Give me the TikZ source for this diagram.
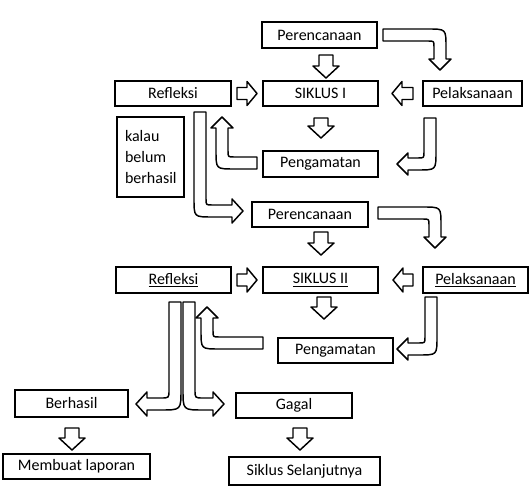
\documentclass[tikz,border=0pt]{standalone}
\usepackage{fontspec}
\setmainfont{Carlito}
\newcommand\BDown[3]{\draw[barrow] ({#1-7},{#2}) -- ({#1+7},{#2}) -- ({#1+7},{#3-12}) -- ({#1+13},{#3-12}) -- ({#1},{#3}) -- ({#1-13},{#3-12}) -- ({#1-7},{#3-12}) -- cycle;}
\newcommand\BRight[3]{\draw[barrow] ({#1},{#3-6}) -- ({#2-10},{#3-6}) -- ({#2-10},{#3-12}) -- ({#2},{#3}) -- ({#2-10},{#3+12}) -- ({#2-10},{#3+6}) -- ({#1},{#3+6}) -- cycle;}
\newcommand\BLeft[3]{\draw[barrow] ({#1},{#3-6}) -- ({#2+10},{#3-6}) -- ({#2+10},{#3-12}) -- ({#2},{#3}) -- ({#2+10},{#3+12}) -- ({#2+10},{#3+6}) -- ({#1},{#3+6}) -- cycle;}
\begin{document}
\begin{tikzpicture}[x=0.75pt,y=-0.75pt,
  box/.style={draw=black, line width=1.5pt, fill=white, inner sep=0pt, font=\fontsize{12}{14}\selectfont},
  sz/.style 2 args={minimum width=#1*0.75pt, minimum height=#2*0.75pt},
  barrow/.style={draw=black, line width=1.1pt, fill=white, line join=round}]
\useasboundingbox (0,0) rectangle (531,491);
\fill[white] (0,0) rectangle (531,491);

% boxes
\node[box, sz={115}{26}] (per1) at (319.5,35) {Perencanaan};
\node[box, sz={116}{25}] (ref1) at (173,93.5) {Refleksi};
\node[box, sz={115}{25}] (sik1) at (320.5,93.5) {SIKLUS I};
\node[box, sz={99}{25}] (pel1) at (472.5,93.5) {Pelaksanaan};
\node[box, line width=0.9pt, sz={67}{80}, text width=51*0.75pt, inner xsep=8*0.75pt, align=left, font=\fontsize{12}{15.7}\selectfont] (kal) at (150.5,157) {kalau\\belum\\berhasil};
\node[box, sz={115}{26}] (pen1) at (320.5,164) {Pengamatan};
\node[box, sz={116}{25}] (per2) at (310,214.5) {Perencanaan};
\node[box, sz={115}{26}] (ref2) at (173.5,280) {\underline{Refleksi}};
\node[box, sz={115}{26}] (sik2) at (320.5,280) {\underline{SIKLUS II}};
\node[box, sz={105}{26}] (pel2) at (475.5,280) {\underline{Pelaksanaan}};
\node[box, sz={115}{25}] (pen2) at (335.5,350.5) {Pengamatan};
\node[box, sz={113}{27}] (ber) at (71.5,403.5) {Berhasil};
\node[box, sz={116}{25}] (gag) at (294,405.5) {Gagal};
\node[box, sz={147}{25}] (mem) at (76.5,466.5) {Membuat laporan};
\node[box, sz={151}{28}] (sel) at (304.5,471) {Siklus Selanjutnya};

% straight block arrows
\BDown{326}{55}{78}
\BDown{321}{118}{138}
\BDown{321}{232}{255}
\BDown{324}{297}{319}
\BDown{72}{428}{450}
\BDown{300}{428}{450}
\BRight{237}{257}{93.5}
\BLeft{413}{392}{93.5}
\BRight{237}{257}{280}
\BLeft{413}{393}{280}

% bent block arrows
% Perencanaan 1 -> Pelaksanaan 1
\draw[barrow] (383,29) -- (428,29) .. controls (446,29) .. (446,47) -- (446,59) -- (451,59) -- (440,70) -- (429,59) -- (434,59) -- (434,47) .. controls (434,41) .. (428,41) -- (383,41) -- cycle;
% Pelaksanaan 1 -> Pengamatan 1
\draw[barrow] (424,118) -- (436,118) -- (436,152) .. controls (436,170) .. (418,170) -- (408,170) -- (408,175) -- (397,164) -- (408,153) -- (408,158) -- (418,158) .. controls (424,158) .. (424,152) -- cycle;
% Pengamatan 1 -> Refleksi 1
\draw[barrow] (257,157) -- (257,169) -- (234,169) .. controls (216,169) .. (216,151) -- (216,128) -- (211,128) -- (222,117) -- (233,128) -- (228,128) -- (228,151) .. controls (228,157) .. (234,157) -- cycle;
% Refleksi 1 -> Perencanaan 2
\draw[barrow] (194,112) -- (206,112) -- (206,199) .. controls (206,205) .. (212,205) -- (232,205) -- (232,199) -- (243,211) -- (232,223) -- (232,217) -- (212,217) .. controls (194,217) .. (194,199) -- cycle;
% Perencanaan 2 -> Pelaksanaan 2
\draw[barrow] (378,207) -- (423,207) .. controls (441,207) .. (441,225) -- (441,237) -- (446,237) -- (435,248) -- (424,237) -- (429,237) -- (429,225) .. controls (429,219) .. (423,219) -- (378,219) -- cycle;
% Pelaksanaan 2 -> Pengamatan 2
\draw[barrow] (425,297) -- (437,297) -- (437,337) .. controls (437,355) .. (419,355) -- (408,355) -- (408,360) -- (397,349) -- (408,338) -- (408,343) -- (419,343) .. controls (425,343) .. (425,337) -- cycle;
% Pengamatan 2 -> Refleksi 2
\draw[barrow] (263,337) -- (263,349) -- (219,349) .. controls (201,349) .. (201,331) -- (201,318) -- (196,318) -- (207,307) -- (218,318) -- (213,318) -- (213,331) .. controls (213,337) .. (219,337) -- cycle;
% Refleksi 2 -> Berhasil
\draw[barrow] (169,302) -- (181,302) -- (181,390) .. controls (181,410) .. (161,410) -- (147,410) -- (147,416) -- (136,404) -- (147,392) -- (147,398) -- (161,398) .. controls (169,398) .. (169,390) -- cycle;
% Refleksi 2 -> Gagal
\draw[barrow] (183,302) -- (195,302) -- (195,390) .. controls (195,398) .. (203,398) -- (213,398) -- (213,392) -- (224,404) -- (213,416) -- (213,410) -- (203,410) .. controls (183,410) .. (183,390) -- cycle;
\end{tikzpicture}
\end{document}
